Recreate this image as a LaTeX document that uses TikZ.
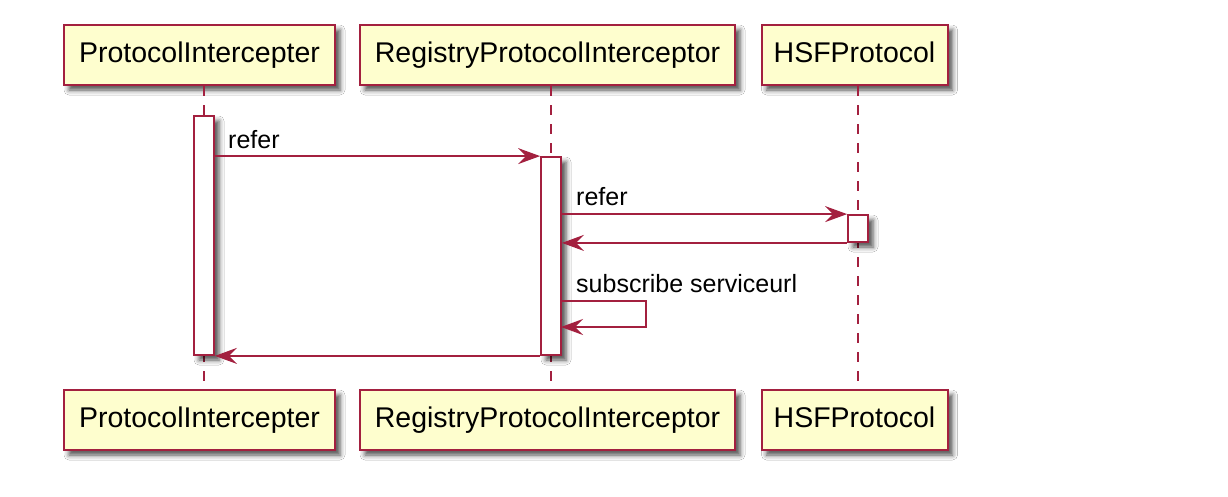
\documentclass[tikz,border=0pt]{standalone}
\usepackage{fontspec}
\setmainfont{Liberation Sans}
\usetikzlibrary{arrows.meta,shadows.blur}
\definecolor{pborder}{HTML}{A3203F}
\definecolor{pfill}{HTML}{FEFECE}
\tikzset{
  myshadow/.style={blur shadow={shadow xshift=5pt, shadow yshift=-5pt, shadow blur radius=5pt, shadow opacity=70}},
  participant/.style={draw=pborder, line width=2pt, fill=pfill, minimum height=60pt, inner sep=0pt,
    font=\fontsize{28.5}{32}\selectfont, text height=20pt, text depth=6pt, myshadow},
  actbar/.style={draw=pborder, line width=1.8pt, fill=white, minimum width=20pt, inner sep=0pt, myshadow},
  lifeline/.style={draw=pborder, line width=2pt, dash pattern=on 10pt off 9pt},
  msg/.style={draw=pborder, line width=1.6pt, -{Stealth[length=22pt,width=16pt,inset=8pt]}},
  msglabel/.style={anchor=base west, inner sep=0pt, font=\fontsize{25}{28}\selectfont},
}
\begin{document}
\begin{tikzpicture}[x=1pt,y=-1pt]
\useasboundingbox (0,0) rectangle (1228,496);
\fill[white] (0,0) rectangle (1228,496);
% lifeline x positions
\coordinate (l1) at (204,0);
\coordinate (l2) at (551,0);
\coordinate (l3) at (858,0);
% participant boxes
\node[participant, minimum width=271pt] (p1t) at (199.5,55) {ProtocolIntercepter};
\node[participant, minimum width=375pt] (p2t) at (547.5,55) {RegistryProtocolInterceptor};
\node[participant, minimum width=186pt] (p3t) at (854.5,55) {HSFProtocol};
\node[participant, minimum width=271pt] (p1b) at (199.5,420) {ProtocolIntercepter};
\node[participant, minimum width=375pt] (p2b) at (547.5,420) {RegistryProtocolInterceptor};
\node[participant, minimum width=186pt] (p3b) at (854.5,420) {HSFProtocol};
% lifelines
\draw[lifeline] (p1t.south -| l1) -- (p1b.north -| l1);
\draw[lifeline] (p2t.south -| l2) -- (p2b.north -| l2);
\draw[lifeline] (p3t.south -| l3) -- (p3b.north -| l3);
% activation bars
\node[actbar, minimum height=239pt] (a1) at (204,235.5) {};
\node[actbar, minimum height=198pt] (a2) at (551,256) {};
\node[actbar, minimum height=27pt] (a3) at (858,228.5) {};
% messages
\draw[msg] (a1.east |- a2.north west) -- (a2.north west);
\node[msglabel] (m1) at (228,148) {refer};
\draw[msg] (a2.east |- a3.north west) -- (a3.north west);
\node[msglabel] (m2) at (576,205) {refer};
\draw[msg] (a3.south west) -- (a2.east |- a3.south west);
\coordinate (s1) at (561,301);
\coordinate (s2) at (646,301);
\coordinate (s3) at (646,327);
\coordinate (s4) at (561,327);
\draw[msg] (s1) -- (s2) -- (s3) -- (s4);
\node[msglabel] (m3) at (576,292) {subscribe serviceurl};
\draw[msg] (a2.south west) -- (a1.south east);
\end{tikzpicture}
\end{document}
